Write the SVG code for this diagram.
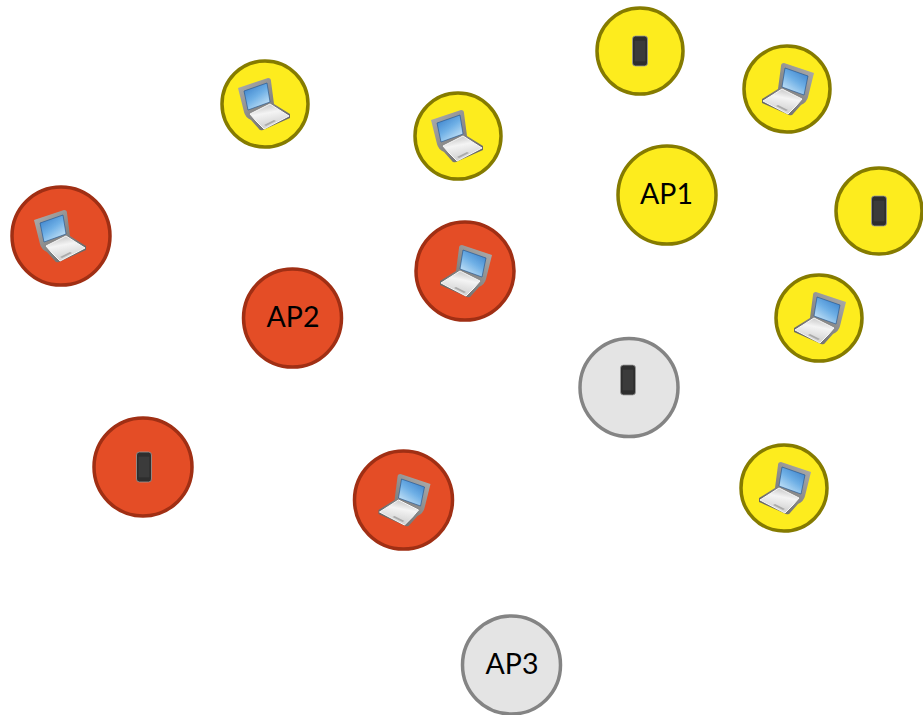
<svg xmlns="http://www.w3.org/2000/svg" width="923" height="715" viewBox="0 0 923 715">
<style>
.y{fill:#fdec1e;stroke:#857b00;stroke-width:3.500}
.r{fill:#e44d26;stroke:#a02f14;stroke-width:3.500}
.g{fill:#e4e4e4;stroke:#848484;stroke-width:3.500}
text{font-family:"Lato","Open Sans",sans-serif;font-size:28.500px;fill:#000;text-anchor:middle}
</style>
<defs>
<filter id="soft" x="-10%" y="-10%" width="120%" height="120%"><feGaussianBlur stdDeviation="0.4"/></filter>
<linearGradient id="scr" x1="0" y1="0" x2="0.7" y2="1"><stop offset="0" stop-color="#2f76c4"/><stop offset="0.55" stop-color="#6fb0e6"/><stop offset="1" stop-color="#c8e4f7"/></linearGradient>
<linearGradient id="lid" x1="0" y1="0" x2="1" y2="1"><stop offset="0" stop-color="#b0b0b0"/><stop offset="1" stop-color="#5e5e5e"/></linearGradient>
<linearGradient id="base" x1="0" y1="0" x2="0.3" y2="1"><stop offset="0" stop-color="#b8b8b8"/><stop offset="0.45" stop-color="#f4f4f4"/><stop offset="1" stop-color="#d0d0d0"/></linearGradient>
<symbol id="laptop" overflow="visible" viewBox="-30 -30 60 60" width="60" height="60">
<g filter="url(#soft)">
<path d="M-27-16 3-26Q6-26 6-23L9 0 25 10V14L-2 26Q-5 27-6 25L-14 16Q-20 13-21 8Z" fill="url(#lid)"/>
<path d="M-21-13 2-21 5-2-17 6Z" fill="url(#scr)" stroke="#1d4f8c" stroke-width=".6"/>
<path d="M5 0-15 10-9 17-1 25 24 12Z" fill="url(#base)" stroke="#f8f8f8" stroke-width="1"/>
<path d="M-1 21 9 16 11 17 1 22Z" fill="#aaa"/>
</g>
</symbol>
<symbol id="phone" overflow="visible" viewBox="-8 -16 16 32" width="16" height="32">
<g filter="url(#soft)">
<rect x="-7.500" y="-15" width="15" height="30" rx="3" fill="#2d2d2d" stroke="#999" stroke-width=".8"/>
<rect x="-5.500" y="-10.500" width="11" height="21" fill="#3a3a3a"/>
</g>
</symbol>
</defs>
<g id="connectors"/>
<g id="ap1"><circle class="y" cx="667" cy="195" r="49"/><text x="666.500" y="204">AP1</text></g>
<g id="ap2"><circle class="r" cx="292.500" cy="318" r="49"/><text x="293" y="327">AP2</text></g>
<g id="ap3"><circle class="g" cx="511.500" cy="665" r="49"/><text x="512" y="674">AP3</text></g>
<g id="y1"><circle class="y" cx="640" cy="51" r="43"/><use href="#phone" x="632" y="35"/></g>
<g id="y2"><circle class="y" cx="787" cy="89" r="43"/><use href="#laptop" transform="translate(787 89) scale(-1 1)" x="-30" y="-30"/></g>
<g id="y3"><circle class="y" cx="879" cy="211" r="43"/><use href="#phone" x="871" y="195"/></g>
<g id="y4"><circle class="y" cx="819" cy="318" r="43"/><use href="#laptop" transform="translate(819 318) scale(-1 1)" x="-30" y="-30"/></g>
<g id="y5"><circle class="y" cx="784" cy="488" r="43"/><use href="#laptop" transform="translate(784 488) scale(-1 1)" x="-30" y="-30"/></g>
<g id="y6"><circle class="y" cx="265" cy="104" r="43"/><use href="#laptop" transform="translate(265 104)" x="-30" y="-30"/></g>
<g id="y7"><circle class="y" cx="458" cy="136" r="43"/><use href="#laptop" transform="translate(458 136)" x="-30" y="-30"/></g>
<g id="r1"><circle class="r" cx="61" cy="236" r="49"/><use href="#laptop" transform="translate(61 236)" x="-30" y="-30"/></g>
<g id="r2"><circle class="r" cx="465" cy="271" r="49"/><use href="#laptop" transform="translate(465 271) scale(-1 1)" x="-30" y="-30"/></g>
<g id="r3"><circle class="r" cx="143" cy="467" r="49"/><use href="#phone" x="136" y="451"/></g>
<g id="r4"><circle class="r" cx="403.500" cy="500" r="49"/><use href="#laptop" transform="translate(403.500 500) scale(-1 1)" x="-30" y="-30"/></g>
<g id="g1"><circle class="g" cx="629" cy="387.500" r="49"/><use href="#phone" x="620" y="364"/></g>
</svg>
